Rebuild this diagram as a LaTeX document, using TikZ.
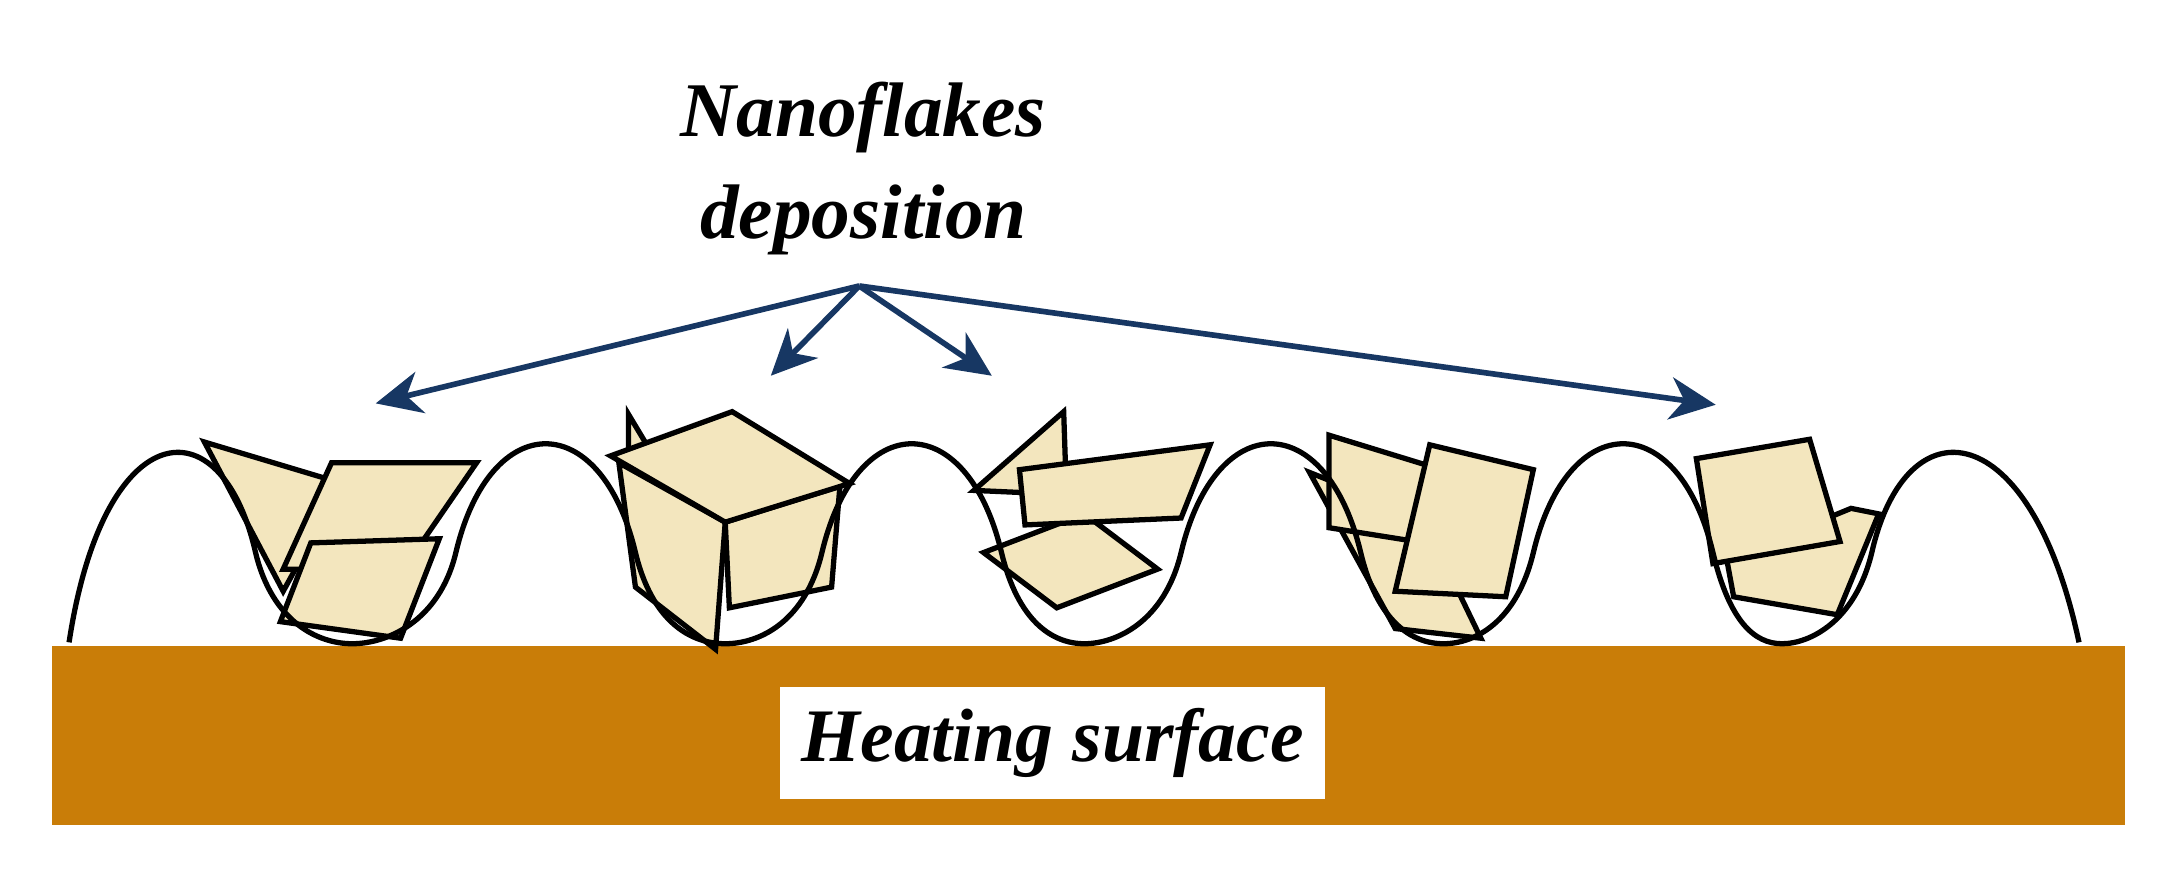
\documentclass[tikz,border=0pt]{standalone}
\usepackage{fontspec}
\setmainfont{Liberation Serif}
\usetikzlibrary{arrows.meta}
\definecolor{navy}{HTML}{173763}
\definecolor{cream}{HTML}{F3E6BE}
\definecolor{bronze}{HTML}{C97D08}
\begin{document}
\begin{tikzpicture}[x=0.01381cm,y=-0.01381cm,
  flake/.style={fill=cream,draw=black,line width=1.5pt,line join=miter},
  arr/.style={navy,line width=1.6pt,-{Stealth[length=13pt,width=12pt,inset=4pt]}},
  ttl/.style={font=\fontsize{22}{29}\selectfont\bfseries\itshape}]
\useasboundingbox (0,0) rectangle (1568,629);
\fill[white] (0,0) rectangle (1568,629);
% brown base
\fill[bronze] (38,468) rectangle (1538,597);
\node[fill=white,minimum width=5.45cm,minimum height=1.12cm,font=\fontsize{21.5}{24}\selectfont\bfseries\itshape] (hs) at (762,538) {Heating surface};
% title
\node[ttl,align=center] (title) at (625,122) {Nanoflakes\\deposition};
\coordinate (src) at (622,207);
\coordinate (a1) at (272,292);
\coordinate (a2) at (558,272);
\coordinate (a3) at (718,272);
\coordinate (a4) at (1242,293);
\draw[arr] (src) -- (a1);
\draw[arr] (src) -- (a2);
\draw[arr] (src) -- (a3);
\draw[arr] (src) -- (a4);
% flakes
\draw[flake] (148,320) -- (248,350) -- (205,428) -- cycle;
\draw[flake] (240,335) -- (345,335) -- (292,412) -- (205,412) -- cycle;
\draw[flake] (225,393) -- (318,390) -- (290,462) -- (203,450) -- cycle;
\draw[flake] (455,300) -- (470,325) -- (455,340) -- cycle;
\draw[flake] (448,335) -- (525,378) -- (518,470) -- (460,425) -- cycle;
\draw[flake] (525,378) -- (608,352) -- (602,425) -- (528,440) -- cycle;
\draw[flake] (442,330) -- (530,298) -- (615,350) -- (525,378) -- cycle;
\draw[flake] (705,355) -- (770,298) -- (772,358) -- cycle;
\draw[flake] (712,400) -- (785,372) -- (838,412) -- (765,440) -- cycle;
\draw[flake] (738,340) -- (876,322) -- (855,375) -- (742,380) -- cycle;
\draw[flake] (948,342) -- (1030,375) -- (1072,462) -- (1010,455) -- cycle;
\draw[flake] (962,315) -- (1050,342) -- (1025,392) -- (962,382) -- cycle;
\draw[flake] (1035,322) -- (1110,340) -- (1090,432) -- (1010,428) -- cycle;
\draw[flake] (1250,405) -- (1340,368) -- (1360,372) -- (1330,445) -- (1255,432) -- cycle;
\draw[flake] (1228,332) -- (1310,318) -- (1332,392) -- (1240,408) -- cycle;
% surface profile
\draw[line width=1.5pt] (50,465)
  .. controls (75,300) and (160,290) .. (185,400)
  .. controls (197,450) and (230,466) .. (255,466)
  .. controls (280,466) and (318,450) .. (330,400)
  .. controls (355,295) and (435,295) .. (460,400)
  .. controls (472,450) and (500,466) .. (525,466)
  .. controls (550,466) and (583,450) .. (595,400)
  .. controls (620,295) and (700,295) .. (725,400)
  .. controls (737,450) and (762,466) .. (785,466)
  .. controls (808,466) and (843,450) .. (855,400)
  .. controls (880,295) and (960,295) .. (985,400)
  .. controls (997,450) and (1022,466) .. (1045,466)
  .. controls (1068,466) and (1098,450) .. (1110,400)
  .. controls (1135,295) and (1215,295) .. (1240,400)
  .. controls (1252,450) and (1270,466) .. (1290,466)
  .. controls (1310,466) and (1343,450) .. (1355,400)
  .. controls (1380,290) and (1470,300) .. (1505,465);
\end{tikzpicture}
\end{document}
